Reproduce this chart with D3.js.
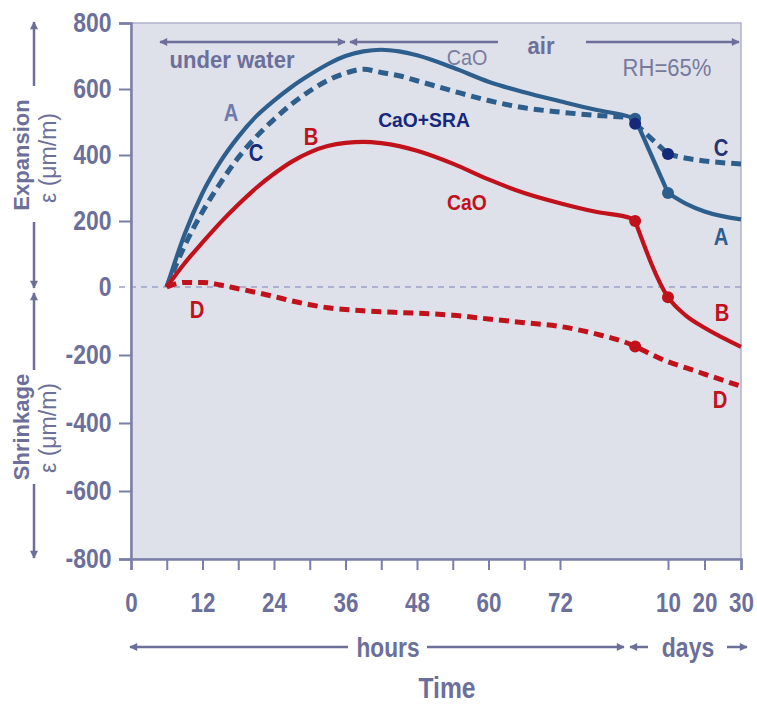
<!DOCTYPE html>
<html>
<head>
<meta charset="utf-8">
<script src="https://cdn.jsdelivr.net/npm/d3@7"></script>
<style>
  body { margin: 0; background: #fff; }
  text { font-family: "Liberation Sans", Arial, sans-serif; font-weight: bold; }
</style>
</head>
<body>
<div id="chart"></div>
<script>
// time grid: hours part, then days part
const hours = [6, 9, 12, 15, 18, 21, 24, 27, 30, 33, 36, 39, 42, 45, 48, 54, 60, 66, 72, 78, 84];
const days = [1, 10, 15, 20, 30];

// strain values (µm/m)
const aHours = [0, 160, 285, 380, 455, 517, 565, 607, 643, 675, 700, 714, 719, 714, 702, 665, 622, 590, 563, 537, 514];
const aDays = [510, 285, 252, 229, 205];
const cHours = [0, 125, 228, 315, 392, 455, 508, 555, 594, 626, 648, 660, 650, 640, 625, 594, 565, 543, 530, 520, 512];
const cDays = [495, 403, 390, 382, 373];
const bHours = [0, 72, 135, 195, 250, 300, 343, 380, 408, 427, 437, 440, 436, 427, 413, 374, 326, 285, 254, 228, 208];
const bDays = [200, -30, -85, -120, -176];
const dHours = [0, 14, 14, 6, -5, -16, -28, -41, -52, -61, -66, -70, -73, -75, -77, -83, -94, -105, -116, -138, -170];
const dDays = [-175, -220, -238, -256, -292];

const yTicks = [800, 600, 400, 200, 0, -200, -400, -600, -800];
const hourTicks = [0, 6, 12, 18, 24, 30, 36, 42, 48, 54, 60, 66, 72];
const hourLabels = [0, 12, 24, 36, 48, 60, 72];
const dayTicks = [10, 20, 30];

const W = 757, H = 707;
const mLeft = 131, mRight = 741, mTop = 23, mBottom = 559;

const txt = "#6c6f99", blue = "#2e5e8c", navy = "#16287a", red = "#c1121c";

// hours and days share one axis: days are placed after the 84 h mark
const toT = (unit, v) => unit === "h" ? v : 84 + v * 24;
const x = d3.scaleLinear().domain([0, 84, toT("d", 30)]).range([mLeft, 631.5, mRight]);
const y = d3.scaleLinear().domain([-800, 0, 800]).range([mBottom, 287, mTop]);

function build(hv, dv) {
  return hours.map((h, i) => ({ t: toT("h", h), v: hv[i] }))
    .concat(days.map((d, i) => ({ t: toT("d", d), v: dv[i] })));
}

const series = [
  { name: "A", pts: build(aHours, aDays), color: blue, dash: null, breaks: [1, 10], dots: [1, 10], dotColor: blue },
  { name: "C", pts: build(cHours, cDays), color: blue, dash: "10,6", breaks: [1, 10], dots: [1, 10], dotColor: navy },
  { name: "B", pts: build(bHours, bDays), color: red, dash: null, breaks: [1], dots: [1, 10], dotColor: red },
  { name: "D", pts: build(dHours, dDays), color: red, dash: "10,6", breaks: [], dots: [1], dotColor: red }
];

const svg = d3.select("#chart").append("svg").attr("width", W).attr("height", H);

const defs = svg.append("defs");
defs.append("marker").attr("id", "arr")
  .attr("viewBox", "0 0 10 10").attr("refX", 9).attr("refY", 5)
  .attr("markerWidth", 12).attr("markerHeight", 8)
  .attr("markerUnits", "userSpaceOnUse")
  .attr("orient", "auto-start-reverse")
  .append("path").attr("d", "M0,0L10,5L0,10z").attr("fill", txt);

svg.append("rect").attr("x", mLeft).attr("y", mTop)
  .attr("width", mRight - mLeft).attr("height", mBottom - mTop)
  .attr("fill", "#dee1ea").attr("stroke", "#aeb1cb").attr("stroke-width", 1.5);

// zero line
svg.append("line").attr("x1", mLeft - 12).attr("x2", mRight)
  .attr("y1", y(0)).attr("y2", y(0))
  .attr("stroke", "#9ba1c6").attr("stroke-width", 1.5).attr("stroke-dasharray", "6,5");

// y axis
const yAxis = svg.append("g").attr("transform", `translate(${mLeft},0)`)
  .call(d3.axisLeft(y).tickValues(yTicks).tickSize(12).tickPadding(11).tickFormat(d => String(d)));
yAxis.select(".domain").attr("stroke", "#7b7fa8").attr("stroke-width", 2.5);
yAxis.selectAll(".tick line").attr("stroke", "#7b7fa8").attr("stroke-width", 2)
  .filter(d => d === 0).remove();
yAxis.selectAll(".tick text").attr("fill", txt).attr("font-size", 27)
  .attr("transform", "scale(0.85,1)");

// x axis: hour ticks, then day ticks
const xTickVals = hourTicks.map(h => toT("h", h)).concat(dayTicks.map(d => toT("d", d)));
const xAxis = svg.append("g").attr("transform", `translate(0,${mBottom})`)
  .call(d3.axisBottom(x).tickValues(xTickVals).tickSize(11).tickPadding(22)
    .tickFormat((t, i) => {
      if (i >= hourTicks.length) return dayTicks[i - hourTicks.length];
      return hourLabels.includes(hourTicks[i]) ? hourTicks[i] : "";
    }));
xAxis.select(".domain").attr("stroke", "#7b7fa8").attr("stroke-width", 2.5);
xAxis.selectAll(".tick line").attr("stroke", "#7b7fa8").attr("stroke-width", 2);
xAxis.selectAll(".tick text").attr("fill", txt).attr("font-size", 28)
  .attr("transform", "scale(0.8,1)");

// curves, split at the kinks
const line = d3.line().x(d => x(d.t)).y(d => y(d.v)).curve(d3.curveMonotoneX);
series.forEach(s => {
  const cuts = s.breaks.map(d => toT("d", d));
  let segs = [], cur = [];
  s.pts.forEach(p => {
    cur.push(p);
    if (cuts.includes(p.t)) { segs.push(cur); cur = [p]; }
  });
  if (cur.length > 1) segs.push(cur);
  segs.forEach(seg => {
    svg.append("path").datum(seg).attr("d", line)
      .attr("fill", "none").attr("stroke", s.color)
      .attr("stroke-width", s.dash ? 5 : 4.2)
      .attr("stroke-dasharray", s.dash);
  });
  s.dots.forEach(d => {
    const p = s.pts.find(q => q.t === toT("d", d));
    svg.append("circle").attr("cx", x(p.t)).attr("cy", y(p.v)).attr("r", 6)
      .attr("fill", s.dotColor);
  });
});

// labels (squeezed horizontally to mimic a condensed face)
function label(str, lx, ly, color, size, sx, weight) {
  return svg.append("text")
    .attr("transform", `translate(${lx},${ly}) scale(${sx || 0.88},1)`)
    .attr("fill", color).attr("font-size", size).attr("text-anchor", "middle")
    .attr("dominant-baseline", "central")
    .style("font-weight", weight || "bold").text(str);
}
label("A", 231, 113, "#7079a8", 23);
label("C", 256, 153, navy, 23);
label("B", 311, 137, red, 23);
label("D", 197, 310, red, 23);
label("CaO+SRA", 424, 120, navy, 21, 0.92);
label("CaO", 467, 202, red, 22);
label("C", 721, 148, "#27346f", 23);
label("A", 721, 237, blue, 23);
label("B", 722, 313, red, 23);
label("D", 720, 400, red, 23);

label("under water", 232, 60, txt, 24, 0.92);
label("CaO", 467, 57, "#7a7d9e", 22, 0.9, "normal");
label("air", 541, 46, txt, 24, 0.92);
label("RH=65%", 667, 68, "#777a9b", 24, 0.92, "normal");

function arrow(x1, y1, x2, y2, startHead, endHead) {
  svg.append("line").attr("x1", x1).attr("y1", y1).attr("x2", x2).attr("y2", y2)
    .attr("stroke", txt).attr("stroke-width", 2.5)
    .attr("marker-start", startHead ? "url(#arr)" : null)
    .attr("marker-end", endHead ? "url(#arr)" : null);
}
arrow(160, 42, 345, 42, true, true);
arrow(350, 42, 498, 42, true, false);
arrow(586, 42, 739, 42, false, true);

arrow(130, 647, 348, 647, true, false);
arrow(427, 647, 624, 647, false, true);
arrow(630, 647, 648, 647, true, false);
arrow(727, 647, 747, 647, false, true);
label("hours", 388, 647, txt, 27, 0.84);
label("days", 688, 647, txt, 27, 0.85);
label("Time", 447, 688, txt, 29, 0.85);

arrow(34, 22, 34, 86, true, false);
arrow(34, 222, 34, 288, false, true);
arrow(34, 293, 34, 370, true, false);
arrow(34, 484, 34, 558, false, true);

function yTitle(str, ty, ly) {
  svg.append("text").attr("transform", `translate(29,${ty}) rotate(-90)`)
    .attr("text-anchor", "middle").attr("fill", txt).attr("font-size", 22)
    .text(str);
  svg.append("text").attr("transform", `translate(56,${ly}) rotate(-90)`)
    .attr("text-anchor", "middle").attr("fill", txt).attr("font-size", 23)
    .style("font-weight", "normal").text("ε (μm/m)");
}
yTitle("Expansion", 155, 158);
yTitle("Shrinkage", 427, 428);
</script>
</body>
</html>
